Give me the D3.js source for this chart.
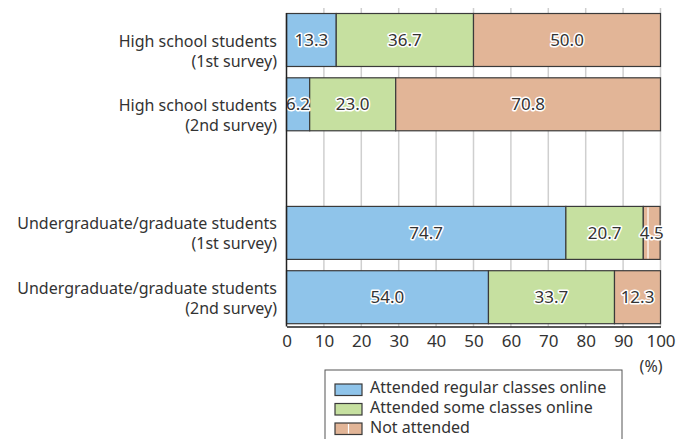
<!DOCTYPE html>
<html>
<head>
<meta charset="utf-8">
<script src="https://cdn.jsdelivr.net/npm/d3@7"></script>
<style>
  html, body { margin: 0; padding: 0; background: #fff; }
  svg { display: block; }
  text { font-family: "Noto Sans", "DejaVu Sans", sans-serif; fill: #333; }
</style>
</head>
<body>
<svg id="chart" width="677" height="439"></svg>
<script>
// Survey groups (a blank slot separates high school from university rows)
const groups = ["hs1", "hs2", "gap", "ug1", "ug2"];
const groupLines = {
  hs1: ["High school students", "(1st survey)"],
  hs2: ["High school students", "(2nd survey)"],
  ug1: ["Undergraduate/graduate students", "(1st survey)"],
  ug2: ["Undergraduate/graduate students", "(2nd survey)"]
};
const rows = ["hs1", "hs2", "ug1", "ug2"];

// Share of students (%) per attendance type
const regularOnline = [13.3, 6.2, 74.7, 54.0];
const someOnline    = [36.7, 23.0, 20.7, 33.7];
const notAttended   = [50.0, 70.8, 4.5, 12.3];

const seriesNames = ["Attended regular classes online", "Attended some classes online", "Not attended"];
const seriesColors = ["#8fc4ea", "#c6e0a0", "#e2b597"];
const xTicks = [0, 10, 20, 30, 40, 50, 60, 70, 80, 90, 100];

const svg = d3.select("#chart");
const left = 286.5, right = 660.5;
const x = d3.scaleLinear().domain([0, 100]).range([left, right]);
const y = d3.scaleBand().domain(groups).range([13.5, 323.7]).paddingInner(0.176).paddingOuter(0);
const axisY = 326.5;

// vertical gridlines
svg.append("g").selectAll("line").data(xTicks.slice(1)).join("line")
  .attr("x1", d => x(d)).attr("x2", d => x(d))
  .attr("y1", 8).attr("y2", axisY)
  .attr("stroke", "#cfcfcf").attr("stroke-width", 1.5);

// stacked segments
const table = rows.map((r, i) => ({ group: r, v: [regularOnline[i], someOnline[i], notAttended[i]] }));
const segs = [];
table.forEach(row => {
  let acc = 0;
  row.v.forEach((v, k) => {
    segs.push({ group: row.group, k, x0: acc, x1: acc + v, v });
    acc += v;
  });
});

const gBars = svg.append("g");
gBars.selectAll("rect").data(segs).join("rect")
  .attr("x", d => x(d.x0))
  .attr("y", d => y(d.group))
  .attr("width", d => x(d.x1) - x(d.x0))
  .attr("height", y.bandwidth())
  .attr("fill", d => seriesColors[d.k])
  .attr("stroke", "#3a3a3a")
  .attr("stroke-width", 1.2);

// thin white divider inside the narrow "not attended" segment
segs.filter(d => d.k === 2 && d.v < 5).forEach(d => {
  const xm = x(d.x0) + (x(d.x1) - x(d.x0)) * 0.28;
  gBars.append("line")
    .attr("x1", xm).attr("x2", xm)
    .attr("y1", y(d.group) + 1).attr("y2", y(d.group) + y.bandwidth() - 1)
    .attr("stroke", "#fff").attr("stroke-width", 1.2);
});

// value labels with white halo
const gVals = svg.append("g");
gVals.selectAll("text").data(segs).join("text")
  .attr("x", d => (x(d.x0) + x(d.x1)) / 2)
  .attr("y", d => y(d.group) + y.bandwidth() / 2)
  .attr("dy", "0.36em")
  .attr("text-anchor", "middle")
  .attr("font-size", 17)
  .attr("stroke", "#fff").attr("stroke-width", 3).attr("paint-order", "stroke")
  .attr("stroke-linejoin", "round")
  .text(d => d.v.toFixed(1));

// left axis line
svg.append("line").attr("x1", left).attr("x2", left).attr("y1", 13).attr("y2", axisY)
  .attr("stroke", "#222").attr("stroke-width", 1.5);

// bottom axis
const xAxis = d3.axisBottom(x).tickValues(xTicks).tickSize(0).tickPadding(8);
const gx = svg.append("g").attr("transform", `translate(0,${axisY})`).call(xAxis);
gx.select(".domain").attr("stroke", "#222").attr("stroke-width", 1.5);
gx.selectAll("text").attr("font-size", 17).attr("font-family", "Noto Sans").attr("fill", "#333");
svg.append("text").attr("x", right + 2).attr("y", 372).attr("text-anchor", "end")
  .attr("font-size", 16).text("(%)");

// category labels; high-school labels sit a little lower than the bar centre
const gCat = svg.append("g");
rows.forEach(r => {
  const shift = r.startsWith("hs") ? 7 : -3.5;
  const base = y(r) + y.bandwidth() / 2 + shift;
  const t = gCat.append("text").attr("text-anchor", "end").attr("font-size", 16);
  groupLines[r].forEach((ln, i) => {
    t.append("tspan").attr("x", 277).attr("y", base + i * 20).text(ln);
  });
});

// legend
const lg = svg.append("g");
lg.append("rect").attr("x", 325).attr("y", 370).attr("width", 297).attr("height", 75)
  .attr("fill", "#fff").attr("stroke", "#555").attr("stroke-width", 1);
seriesNames.forEach((name, i) => {
  const yy = 384 + i * 19.5;
  lg.append("rect").attr("x", 335).attr("y", yy).attr("width", 27).attr("height", 11.5)
    .attr("fill", seriesColors[i]).attr("stroke", "#3a3a3a").attr("stroke-width", 1.2);
  if (i === 2) {
    lg.append("line").attr("x1", 348.5).attr("x2", 348.5).attr("y1", yy + 1).attr("y2", yy + 10.5)
      .attr("stroke", "#fff").attr("stroke-width", 1.2);
  }
  lg.append("text").attr("x", 370).attr("y", 393 + i * 20)
    .attr("font-size", 16).text(name);
});
</script>
</body>
</html>
